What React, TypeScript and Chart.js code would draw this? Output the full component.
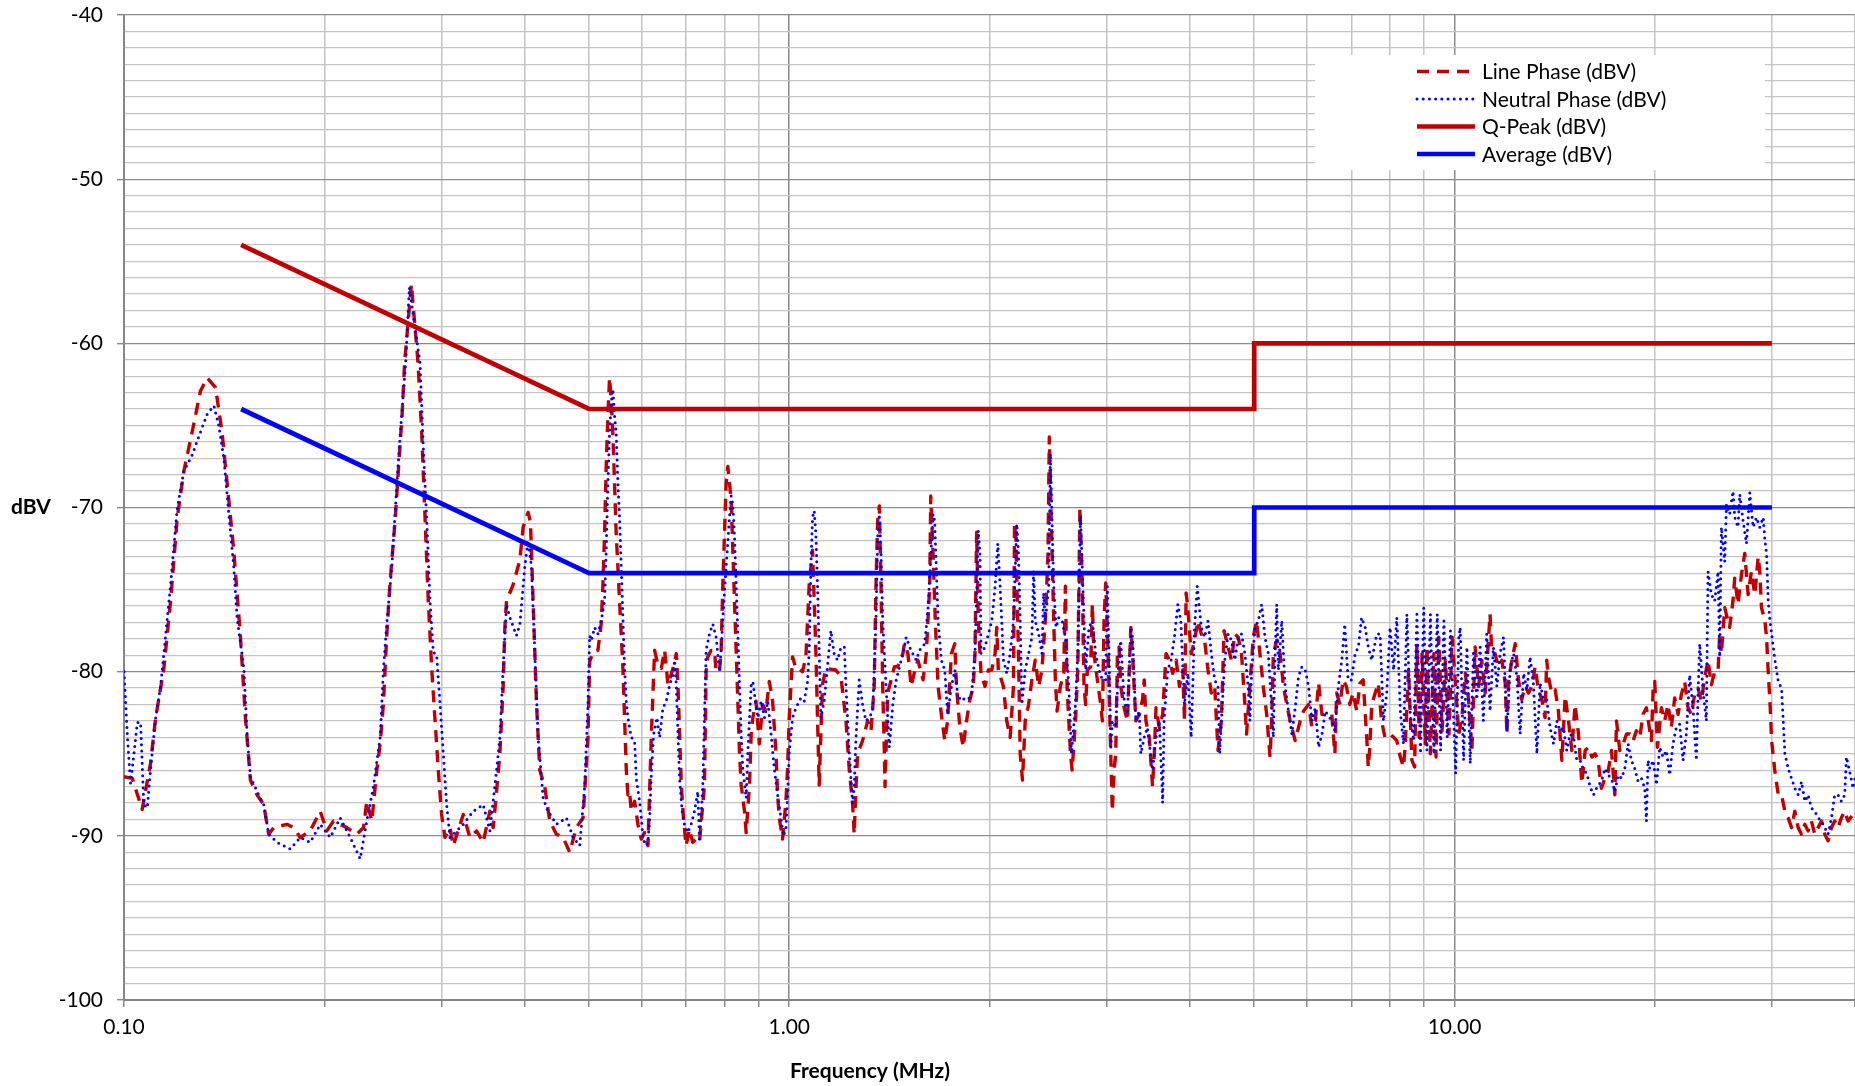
import React, { useEffect, useRef } from 'react';
import { Chart, registerables } from 'chart.js';

Chart.register(...registerables);

const FONT = 'Lato, "Open Sans", sans-serif';

// ---- Data (frequency in MHz, level in dBV) ----
const linePhase: [number, number][] = [
  [0.1, -86.4], [0.1029, -86.5], [0.1065, -88.4], [0.1096, -85.6], [0.1115, -82.9], [0.1148, -79.8], [0.1175, -75.7],
  [0.1202, -70.7], [0.123, -67.8], [0.1266, -65.4], [0.1303, -62.9], [0.1334, -62.1], [0.1373, -62.7], [0.1404, -65.4],
  [0.1429, -68.5], [0.1462, -72.6], [0.1496, -77.8], [0.1523, -82.9], [0.1549, -86.6], [0.1585, -87.5], [0.1622, -88.1],
  [0.165, -89.9], [0.1679, -89.5], [0.1758, -89.3], [0.1799, -89.5], [0.1841, -90.1], [0.1905, -89.7], [0.1972, -88.5],
  [0.2018, -89.7], [0.2065, -89.1], [0.2163, -89.5], [0.2239, -89.9], [0.2291, -89.5], [0.2317, -87.9], [0.2358, -89.1],
  [0.2399, -86.0], [0.2427, -84.4], [0.2455, -81.9], [0.2483, -77.8], [0.2512, -74.5], [0.2557, -70.7], [0.2588, -67.4],
  [0.2619, -64.3], [0.2641, -61.2], [0.2704, -56.4], [0.2767, -61.2], [0.2802, -65.4], [0.2834, -70.5], [0.2867, -75.7],
  [0.2901, -79.8], [0.2934, -82.9], [0.2968, -86.0], [0.3002, -88.7], [0.3037, -90.1], [0.309, -89.5], [0.3126, -90.6],
  [0.3236, -88.7], [0.3311, -90.1], [0.3388, -89.7], [0.3467, -90.4], [0.3548, -88.5], [0.3589, -89.5], [0.3631, -87.3],
  [0.3673, -85.0], [0.3715, -80.9], [0.3737, -77.3], [0.3758, -75.7], [0.3846, -74.7], [0.3936, -73.2], [0.3981, -71.2],
  [0.405, -70.3], [0.4083, -70.9], [0.4121, -75.7], [0.4169, -81.9], [0.4217, -86.0], [0.429, -87.0], [0.4365, -89.1],
  [0.4467, -89.9], [0.4571, -90.1], [0.4677, -91.0], [0.4786, -89.5], [0.4898, -88.9], [0.4983, -84.0], [0.5012, -79.4],
  [0.507, -78.8], [0.5157, -78.7], [0.5216, -77.1], [0.5247, -74.7], [0.5277, -71.6], [0.5307, -67.5], [0.5338, -64.4],
  [0.5369, -62.1], [0.54, -63.4], [0.5431, -65.5], [0.5462, -68.5], [0.5494, -71.6], [0.5526, -73.6], [0.5558, -75.7],
  [0.559, -77.7], [0.5623, -79.8], [0.5655, -82.8], [0.5688, -85.9], [0.5721, -87.5], [0.5754, -87.3], [0.5788, -88.5],
  [0.5855, -87.9], [0.5923, -89.3], [0.5992, -90.2], [0.6062, -89.8], [0.6132, -90.6], [0.6203, -84.0], [0.6275, -78.7],
  [0.6348, -79.6], [0.6422, -79.8], [0.6496, -78.7], [0.6572, -80.8], [0.6686, -79.8], [0.6764, -78.9], [0.6803, -80.8],
  [0.6842, -83.8], [0.6882, -86.9], [0.6934, -88.9], [0.6998, -90.6], [0.7079, -89.6], [0.7161, -90.4], [0.7245, -90.2],
  [0.7329, -90.4], [0.7457, -86.9], [0.7483, -82.8], [0.75, -80.0], [0.7543, -79.1], [0.7631, -78.7], [0.772, -78.7],
  [0.7764, -80.0], [0.7855, -80.0], [0.79, -78.7], [0.7946, -74.7], [0.7992, -71.6], [0.8038, -68.5], [0.8085, -67.5],
  [0.8132, -68.5], [0.8179, -69.6], [0.8226, -72.6], [0.8274, -75.7], [0.8322, -78.7], [0.837, -81.8], [0.8418, -84.9],
  [0.8467, -86.9], [0.8566, -88.5], [0.8615, -89.8], [0.8715, -86.9], [0.8766, -83.8], [0.8817, -82.8], [0.8913, -81.8],
  [0.9016, -84.4], [0.912, -82.0], [0.9226, -82.4], [0.9333, -80.6], [0.9441, -81.8], [0.955, -84.9], [0.9605, -87.5],
  [0.966, -88.9], [0.9772, -90.2], [0.9886, -87.9], [0.9943, -85.9], [1.0, -82.8], [1.0116, -79.1], [1.0233, -79.8],
  [1.0351, -79.8], [1.0471, -80.0], [1.0593, -79.1], [1.0715, -74.7], [1.0839, -72.6], [1.0965, -78.7], [1.1092, -86.9],
  [1.122, -80.8], [1.135, -79.8], [1.175, -79.9], [1.196, -80.3], [1.217, -83.0], [1.231, -86.0], [1.245, -88.0],
  [1.252, -89.9], [1.26, -87.0], [1.267, -85.0], [1.289, -84.2], [1.312, -83.0], [1.327, -83.6], [1.342, -80.9],
  [1.35, -74.8], [1.358, -70.8], [1.366, -69.9], [1.374, -74.8], [1.382, -80.9], [1.39, -85.0], [1.393, -87.0],
  [1.406, -81.3], [1.423, -80.5], [1.439, -79.7], [1.455, -79.7], [1.482, -78.9], [1.49, -78.3], [1.508, -78.9],
  [1.525, -80.9], [1.541, -80.1], [1.561, -79.3], [1.589, -80.5], [1.607, -78.9], [1.626, -74.8], [1.632, -69.3],
  [1.645, -72.8], [1.658, -76.9], [1.674, -80.9], [1.693, -82.6], [1.713, -84.2], [1.73, -83.0], [1.753, -78.9],
  [1.774, -78.3], [1.784, -80.9], [1.805, -83.4], [1.826, -84.6], [1.847, -83.0], [1.869, -81.7], [1.891, -80.9],
  [1.902, -78.9], [1.913, -71.5], [1.924, -76.9], [1.942, -80.1], [1.969, -80.9], [1.992, -79.9], [2.016, -79.9],
  [2.039, -78.9], [2.051, -77.3], [2.062, -79.9], [2.099, -80.9], [2.123, -83.0], [2.148, -84.0], [2.173, -80.9],
  [2.181, -71.0], [2.191, -71.8], [2.211, -78.9], [2.224, -85.0], [2.242, -86.6], [2.263, -83.0], [2.29, -82.0],
  [2.316, -80.5], [2.343, -79.3], [2.371, -80.9], [2.398, -79.9], [2.426, -76.9], [2.449, -72.8], [2.46, -65.7],
  [2.477, -70.8], [2.498, -76.9], [2.512, -80.5], [2.527, -82.4], [2.556, -80.9], [2.586, -80.1], [2.601, -74.8],
  [2.616, -80.9], [2.647, -85.0], [2.662, -86.0], [2.693, -83.0], [2.715, -79.9], [2.735, -70.0], [2.758, -74.8],
  [2.774, -80.9], [2.79, -82.0], [2.806, -79.9], [2.839, -79.7], [2.855, -75.9], [2.871, -78.9], [2.905, -80.5],
  [2.939, -82.0], [2.956, -83.0], [2.973, -76.9], [2.99, -74.6], [3.007, -77.3], [3.025, -80.9], [3.043, -85.0],
  [3.06, -88.5], [3.078, -86.0], [3.096, -85.0], [3.114, -78.9], [3.132, -78.5], [3.15, -80.9], [3.187, -82.2],
  [3.224, -83.0], [3.262, -77.3], [3.281, -78.9], [3.319, -83.0], [3.358, -82.6], [3.397, -81.7], [3.417, -80.5],
  [3.437, -83.0], [3.477, -84.0], [3.517, -87.0], [3.538, -85.0], [3.559, -82.2], [3.6, -83.4], [3.642, -82.6],
  [3.685, -78.9], [3.728, -79.3], [3.771, -80.1], [3.816, -79.3], [3.86, -80.9], [3.905, -79.9], [3.928, -83.0],
  [3.95, -75.2], [3.973, -76.1], [4.02, -78.9], [4.067, -78.1], [4.114, -76.9], [4.163, -77.7], [4.211, -78.1],
  [4.261, -79.9], [4.31, -81.3], [4.361, -80.9], [4.411, -84.8], [4.463, -83.0], [4.504, -77.5], [4.568, -78.5],
  [4.621, -79.3], [4.675, -77.7], [4.73, -77.9], [4.785, -78.9], [4.841, -82.0], [4.869, -83.8], [4.925, -80.9],
  [4.983, -77.9], [5.041, -76.9], [5.1, -78.9], [5.159, -80.9], [5.22, -82.6], [5.281, -85.2], [5.311, -83.0],
  [5.342, -78.9], [5.405, -78.1], [5.468, -78.9], [5.532, -80.9], [5.596, -82.0], [5.662, -83.0], [5.761, -84.2],
  [5.862, -83.0], [5.931, -82.4], [6.035, -82.0], [6.105, -83.4], [6.176, -83.0], [6.248, -80.7], [6.321, -82.6],
  [6.54, -82.6], [6.61, -85.0], [6.65, -81.3], [6.73, -82.0], [6.8, -80.5], [6.88, -80.9], [6.96, -82.0],
  [7.04, -81.3], [7.13, -82.4], [7.21, -80.7], [7.29, -80.5], [7.38, -84.0], [7.42, -85.8], [7.46, -84.6],
  [7.51, -82.0], [7.6, -81.3], [7.68, -80.7], [7.77, -83.0], [7.86, -84.0], [8.0, -83.8], [8.1, -84.0],
  [8.19, -84.2], [8.29, -85.2], [8.38, -85.8], [8.43, -84.6], [8.53, -79.9], [8.63, -85.4], [8.71, -85.8],
  [8.78, -78.3], [8.85, -84.0], [8.94, -78.9], [9.04, -84.4], [9.09, -78.5], [9.2, -85.0], [9.31, -78.9],
  [9.38, -85.2], [9.47, -77.9], [9.58, -83.6], [9.69, -79.3], [9.81, -83.8], [9.92, -77.9], [10.04, -80.9],
  [10.15, -83.8], [10.26, -82.8], [10.38, -80.1], [10.5, -81.7], [10.62, -84.8], [10.74, -78.5], [10.87, -80.9],
  [10.99, -79.3], [11.12, -81.3], [11.31, -76.5], [11.38, -78.9], [11.51, -78.9], [11.64, -79.7], [11.78, -79.3],
  [11.92, -80.7], [11.99, -83.8], [12.06, -80.5], [12.2, -79.3], [12.34, -78.3], [12.48, -80.5], [12.62, -81.7],
  [12.77, -80.9], [12.92, -81.3], [13.07, -80.9], [13.22, -79.7], [13.37, -81.1], [13.53, -81.7], [13.68, -82.8],
  [13.76, -79.3], [13.84, -80.3], [14.0, -81.3], [14.17, -81.1], [14.33, -82.4], [14.5, -85.4], [14.67, -81.5],
  [14.84, -83.0], [15.01, -84.8], [15.18, -82.0], [15.36, -83.8], [15.54, -86.8], [15.72, -84.8], [15.9, -84.6],
  [16.09, -85.2], [16.27, -85.0], [16.44, -85.4], [16.63, -87.1], [16.83, -86.5], [17.02, -86.1], [17.22, -84.8],
  [17.42, -87.5], [17.52, -83.0], [17.72, -84.8], [17.93, -84.4], [18.14, -83.8], [18.35, -83.8], [18.56, -84.2],
  [18.77, -83.6], [18.99, -84.0], [19.21, -82.6], [19.43, -82.2], [19.66, -83.6], [19.77, -84.2], [19.89, -81.0],
  [20.0, -80.6], [20.19, -84.6], [20.47, -82.2], [20.7, -83.0], [20.94, -82.0], [21.18, -83.4], [21.43, -81.6],
  [21.68, -82.6], [21.93, -81.4], [22.18, -80.6], [22.44, -82.2], [22.7, -82.6], [22.96, -81.4], [23.23, -81.0],
  [23.5, -81.8], [23.77, -80.4], [24.05, -79.3], [24.33, -80.8], [24.61, -80.0], [24.9, -80.0], [25.04, -77.7],
  [25.19, -78.9], [25.48, -76.1], [25.77, -76.9], [25.92, -77.3], [26.22, -75.7], [26.38, -74.3], [26.68, -75.9],
  [27.0, -74.1], [27.31, -72.8], [27.63, -75.3], [27.95, -73.9], [28.28, -75.3], [28.61, -73.0], [28.77, -73.9],
  [28.94, -76.1], [29.28, -76.9], [29.45, -77.9], [29.62, -80.0], [29.8, -81.8], [29.97, -84.2], [30.32, -86.1],
  [30.67, -87.5], [31.02, -87.5], [31.38, -88.5], [31.74, -88.9], [32.11, -89.5], [32.48, -88.5], [32.86, -89.5],
  [33.24, -89.9], [33.62, -89.3], [34.01, -89.7], [34.4, -89.1], [34.8, -89.9], [35.21, -89.5], [35.61, -89.1],
  [36.03, -89.9], [36.44, -90.3], [36.87, -89.5], [37.29, -89.1], [37.72, -89.5], [38.16, -88.9], [38.6, -88.5],
  [39.05, -89.1], [39.73, -88.7], [40.0, -88.6],
];

const neutralPhase: [number, number][] = [
  [0.1, -80.0], [0.1012, -84.0], [0.1023, -86.8], [0.1035, -85.0], [0.1047, -83.1], [0.1059, -83.1], [0.1071, -88.1],
  [0.1084, -88.3], [0.1096, -86.0], [0.1115, -82.9], [0.1135, -80.9], [0.1155, -77.8], [0.1175, -74.7], [0.1202, -70.1],
  [0.123, -67.8], [0.1266, -66.8], [0.1303, -65.4], [0.1334, -64.3], [0.1365, -63.8], [0.1388, -65.0], [0.1413, -67.0],
  [0.1438, -70.5], [0.1462, -73.6], [0.1479, -76.7], [0.1514, -79.8], [0.1532, -84.0], [0.1549, -86.4], [0.1585, -87.3],
  [0.1622, -88.1], [0.165, -89.9], [0.1698, -90.4], [0.1778, -90.8], [0.1841, -90.1], [0.1905, -90.4], [0.1972, -89.3],
  [0.2042, -90.1], [0.2113, -88.9], [0.2188, -90.1], [0.2265, -91.4], [0.2317, -89.1], [0.2371, -87.0], [0.2427, -84.0],
  [0.2455, -79.8], [0.2483, -77.1], [0.2527, -73.6], [0.2572, -68.5], [0.2603, -65.4], [0.2651, -61.2], [0.2685, -56.6],
  [0.2786, -61.2], [0.2818, -66.4], [0.2851, -70.7], [0.2884, -75.7], [0.2917, -78.8], [0.2951, -79.0], [0.2985, -81.9],
  [0.302, -85.0], [0.3055, -88.1], [0.309, -90.1], [0.3236, -89.3], [0.335, -88.5], [0.3467, -88.1], [0.3548, -89.7],
  [0.3631, -86.0], [0.3673, -84.0], [0.3715, -79.8], [0.3758, -75.9], [0.3802, -76.7], [0.389, -77.8], [0.3936, -77.1],
  [0.4004, -73.6], [0.405, -72.0], [0.4097, -73.6], [0.4145, -78.8], [0.4193, -84.0], [0.4266, -87.7], [0.4339, -88.5],
  [0.4467, -89.3], [0.4624, -88.9], [0.4732, -90.1], [0.4842, -90.6], [0.4926, -87.0], [0.4983, -81.9], [0.5012, -77.8],
  [0.504, -78.1], [0.5098, -77.3], [0.5157, -77.7], [0.5216, -76.9], [0.5277, -75.7], [0.5307, -72.6], [0.5338, -68.5],
  [0.5369, -65.5], [0.54, -63.6], [0.5431, -62.8], [0.5462, -64.4], [0.5494, -65.5], [0.5526, -68.5], [0.5558, -70.6],
  [0.559, -73.6], [0.5623, -76.7], [0.5655, -79.8], [0.5688, -81.8], [0.5721, -82.8], [0.5788, -84.0], [0.5855, -84.2],
  [0.5889, -86.5], [0.5957, -87.9], [0.5992, -88.9], [0.6027, -90.2], [0.6097, -90.6], [0.6132, -90.4], [0.6168, -88.9],
  [0.6203, -86.3], [0.6254, -83.8], [0.6326, -82.8], [0.6385, -84.0], [0.6459, -82.2], [0.6534, -81.8], [0.661, -80.8],
  [0.6686, -80.2], [0.6725, -79.3], [0.6764, -80.8], [0.6803, -83.8], [0.6842, -86.5], [0.6902, -88.5], [0.6958, -89.3],
  [0.7038, -89.8], [0.712, -89.3], [0.7203, -88.5], [0.7287, -87.3], [0.7329, -90.2], [0.7371, -88.9], [0.7414, -86.9],
  [0.7457, -82.8], [0.75, -78.7], [0.7587, -77.7], [0.7675, -77.1], [0.7764, -77.9], [0.7855, -80.0], [0.79, -78.7],
  [0.7946, -76.7], [0.8038, -73.6], [0.8132, -70.6], [0.8179, -69.3], [0.8226, -69.8], [0.8274, -71.8], [0.8322, -74.7],
  [0.837, -77.7], [0.8418, -80.8], [0.8467, -83.8], [0.8516, -85.9], [0.8615, -87.7], [0.8665, -84.9], [0.8715, -82.8],
  [0.8766, -80.8], [0.8817, -80.6], [0.8868, -81.4], [0.897, -82.8], [0.9074, -81.8], [0.9178, -82.8], [0.9284, -81.8],
  [0.939, -83.8], [0.9495, -85.9], [0.9605, -87.5], [0.9716, -88.9], [0.9795, -90.0], [0.9886, -89.6], [0.9943, -87.5],
  [1.0, -84.9], [1.0116, -82.8], [1.0233, -82.2], [1.0411, -81.6], [1.0532, -81.8], [1.0655, -80.6], [1.0715, -78.7],
  [1.0777, -73.6], [1.0839, -70.6], [1.0902, -70.2], [1.0965, -71.6], [1.1028, -74.7], [1.1092, -78.7], [1.1156, -82.8],
  [1.1285, -81.8], [1.155, -77.5], [1.168, -78.9], [1.182, -79.3], [1.196, -78.5], [1.21, -78.5], [1.217, -80.9],
  [1.231, -85.0], [1.245, -88.0], [1.252, -87.0], [1.26, -84.0], [1.274, -80.5], [1.289, -82.0], [1.304, -83.0],
  [1.319, -82.8], [1.335, -82.4], [1.35, -76.9], [1.358, -71.8], [1.366, -70.4], [1.374, -72.8], [1.382, -76.9],
  [1.398, -80.9], [1.414, -84.6], [1.431, -82.0], [1.448, -80.5], [1.465, -79.7], [1.482, -78.9], [1.499, -77.9],
  [1.517, -78.5], [1.534, -78.9], [1.552, -79.3], [1.57, -78.7], [1.598, -78.3], [1.617, -76.1], [1.633, -72.8],
  [1.645, -70.4], [1.654, -70.8], [1.664, -73.8], [1.674, -76.9], [1.693, -79.3], [1.713, -79.9], [1.73, -82.6],
  [1.753, -80.9], [1.774, -79.9], [1.795, -81.7], [1.816, -81.5], [1.833, -81.7], [1.858, -81.7], [1.88, -81.3],
  [1.902, -78.9], [1.924, -71.4], [1.935, -72.8], [1.942, -78.9], [1.969, -78.5], [1.992, -77.7], [2.016, -76.9],
  [2.039, -74.8], [2.058, -72.2], [2.075, -74.8], [2.099, -79.3], [2.123, -80.1], [2.148, -78.9], [2.173, -76.9],
  [2.198, -71.0], [2.211, -72.8], [2.224, -76.9], [2.237, -82.0], [2.263, -79.9], [2.29, -78.9], [2.316, -77.9],
  [2.33, -73.8], [2.343, -76.9], [2.371, -77.7], [2.398, -78.9], [2.412, -75.2], [2.426, -76.9], [2.455, -74.8],
  [2.469, -66.7], [2.483, -70.8], [2.498, -74.8], [2.518, -77.3], [2.542, -76.7], [2.571, -76.9], [2.601, -77.9],
  [2.632, -80.9], [2.656, -85.0], [2.693, -82.0], [2.715, -78.9], [2.73, -74.0], [2.74, -70.5], [2.758, -73.8],
  [2.774, -76.9], [2.79, -79.9], [2.822, -77.3], [2.855, -76.9], [2.888, -78.9], [2.922, -79.9], [2.956, -80.5],
  [2.99, -80.5], [3.007, -74.8], [3.025, -78.9], [3.043, -84.6], [3.06, -83.0], [3.096, -83.4], [3.132, -78.9],
  [3.15, -78.1], [3.187, -81.7], [3.224, -82.6], [3.262, -77.3], [3.281, -77.9], [3.319, -83.0], [3.358, -82.4],
  [3.377, -85.0], [3.417, -84.0], [3.454, -83.4], [3.517, -86.0], [3.559, -84.0], [3.6, -83.0], [3.642, -88.0],
  [3.659, -83.0], [3.706, -79.9], [3.75, -79.3], [3.793, -77.9], [3.838, -75.9], [3.878, -76.9], [3.928, -82.0],
  [3.973, -80.1], [4.02, -84.0], [4.067, -77.3], [4.105, -74.8], [4.163, -77.3], [4.211, -77.9], [4.261, -76.9],
  [4.31, -78.9], [4.361, -80.5], [4.411, -80.9], [4.437, -85.0], [4.463, -83.0], [4.515, -79.3], [4.568, -77.7],
  [4.621, -78.1], [4.675, -79.3], [4.73, -77.9], [4.785, -77.7], [4.841, -78.9], [4.897, -80.9], [4.925, -83.0],
  [4.954, -80.1], [5.012, -77.3], [5.071, -76.9], [5.13, -75.9], [5.19, -77.9], [5.25, -78.9], [5.311, -82.2],
  [5.342, -84.0], [5.374, -78.9], [5.405, -75.9], [5.436, -79.9], [5.5, -76.9], [5.564, -80.9], [5.629, -82.4],
  [5.695, -83.8], [5.761, -82.2], [5.828, -80.3], [5.896, -79.7], [5.965, -79.9], [6.035, -80.9], [6.105, -83.0],
  [6.176, -82.2], [6.248, -84.6], [6.321, -83.8], [6.395, -82.4], [6.54, -83.0], [6.61, -83.6], [6.69, -80.9],
  [6.77, -79.3], [6.84, -77.1], [6.92, -80.5], [7.0, -80.5], [7.09, -78.9], [7.17, -78.5], [7.25, -76.7],
  [7.34, -77.3], [7.42, -78.5], [7.51, -79.3], [7.64, -77.7], [7.73, -77.7], [7.82, -83.0], [7.91, -81.3],
  [8.0, -77.3], [8.1, -79.9], [8.19, -76.7], [8.29, -82.4], [8.38, -84.4], [8.48, -76.5], [8.58, -82.6],
  [8.68, -84.2], [8.78, -76.5], [8.89, -85.0], [8.99, -76.1], [9.09, -84.8], [9.2, -76.5], [9.31, -85.0],
  [9.42, -76.5], [9.53, -84.8], [9.64, -76.9], [9.75, -84.0], [9.86, -77.5], [10.04, -86.2], [10.15, -77.9],
  [10.2, -77.3], [10.32, -85.4], [10.44, -78.5], [10.56, -85.6], [10.68, -78.7], [10.8, -81.7], [10.93, -78.5],
  [11.05, -83.0], [11.18, -77.7], [11.31, -82.4], [11.44, -78.5], [11.58, -80.9], [11.71, -78.9], [11.85, -77.9],
  [11.99, -83.6], [12.13, -79.7], [12.27, -78.9], [12.41, -80.3], [12.55, -83.8], [12.7, -80.1], [12.85, -81.1],
  [12.99, -79.1], [13.14, -80.7], [13.3, -85.0], [13.45, -80.7], [13.61, -81.7], [13.76, -81.7], [13.92, -83.4],
  [14.09, -84.4], [14.25, -83.0], [14.41, -83.6], [14.58, -83.4], [14.75, -84.8], [14.92, -83.8], [15.1, -84.0],
  [15.27, -85.4], [15.45, -85.4], [15.63, -86.0], [15.81, -86.2], [15.99, -87.0], [16.18, -87.5], [16.44, -86.9],
  [16.63, -86.7], [16.83, -85.9], [17.02, -86.3], [17.22, -86.5], [17.42, -87.3], [17.62, -86.3], [17.83, -86.5],
  [18.03, -85.9], [18.24, -84.4], [18.45, -85.4], [18.66, -85.9], [18.88, -86.7], [19.1, -86.5], [19.32, -87.1],
  [19.43, -89.1], [19.54, -85.4], [19.66, -85.9], [19.89, -85.4], [20.12, -86.9], [20.35, -84.6], [20.58, -85.2],
  [20.82, -84.8], [21.06, -86.3], [21.3, -84.4], [21.55, -83.4], [21.8, -83.2], [22.06, -85.4], [22.31, -83.8],
  [22.57, -80.2], [22.83, -82.2], [23.1, -85.4], [23.23, -81.4], [23.37, -78.3], [23.64, -81.2], [23.91, -83.0],
  [24.05, -73.9], [24.33, -75.3], [24.61, -75.7], [24.9, -73.9], [25.04, -79.1], [25.19, -71.2], [25.48, -73.3],
  [25.63, -69.8], [25.92, -70.4], [26.22, -69.0], [26.38, -70.6], [26.68, -71.2], [26.84, -69.2], [27.15, -70.8],
  [27.47, -72.2], [27.79, -69.1], [28.11, -71.2], [28.44, -70.6], [28.77, -71.2], [29.11, -70.6], [29.28, -72.0],
  [29.45, -72.8], [29.62, -75.7], [29.8, -76.9], [29.97, -77.7], [30.32, -79.3], [30.67, -80.6], [31.02, -81.0],
  [31.38, -85.0], [31.74, -85.9], [32.11, -86.5], [32.48, -87.1], [32.86, -87.5], [33.24, -86.7], [33.62, -87.9],
  [34.01, -87.5], [34.4, -88.3], [34.8, -88.5], [35.21, -88.9], [35.61, -89.1], [36.03, -89.5], [36.44, -89.9],
  [36.87, -88.9], [37.29, -87.5], [37.72, -87.5], [38.16, -87.9], [38.6, -87.5], [38.83, -85.2], [39.28, -86.1],
  [39.73, -87.1], [40.0, -86.5],
];

const qPeakFreq = [0.15, 0.5, 5, 5, 30];
const qPeakDbv = [-54, -64, -64, -60, -60];
const averageFreq = [0.15, 0.5, 5, 5, 30];
const averageDbv = [-64, -74, -74, -70, -70];

const xTickValues = [
  0.1, 0.2, 0.3, 0.4, 0.5, 0.6, 0.7, 0.8, 0.9,
  1, 2, 3, 4, 5, 6, 7, 8, 9,
  10, 20, 30, 40,
];
const xMajorTicks = [0.1, 1, 10];
const yMajorTicks = [-100, -90, -80, -70, -60, -50, -40];

const seriesLabels = ['Line Phase (dBV)', 'Neutral Phase (dBV)', 'Q-Peak (dBV)', 'Average (dBV)'];
const xTitle = 'Frequency (MHz)';
const yTitle = 'dBV';

const RED = '#C00000';
const BLUE = '#0000FF';
const MAJOR_GRID = '#8c8c8c';
const MINOR_GRID = '#c4c4c4';

const isXMajor = (v: number) => xMajorTicks.some((m) => Math.abs(m - v) < 1e-9);
const isYMajor = (v: number) => yMajorTicks.some((m) => Math.abs(m - v) < 1e-9);

const overlayPlugin = {
  id: 'overlay',
  afterDraw(chart: any) {
    const ctx = chart.ctx as CanvasRenderingContext2D;
    ctx.save();
    // Legend box
    ctx.fillStyle = '#ffffff';
    ctx.fillRect(1315, 55, 450, 115);
    chart.data.datasets.forEach((ds: any, i: number) => {
      const y = 71.5 + i * 27.5;
      ctx.beginPath();
      ctx.setLineDash(ds.borderDash || []);
      ctx.lineCap = ds.borderCapStyle || 'butt';
      ctx.lineWidth = ds.borderWidth;
      ctx.strokeStyle = ds.borderColor;
      ctx.moveTo(1417, y);
      ctx.lineTo(1475, y);
      ctx.stroke();
      ctx.setLineDash([]);
      ctx.fillStyle = '#000000';
      ctx.font = `21px ${FONT}`;
      ctx.textAlign = 'left';
      ctx.textBaseline = 'middle';
      ctx.fillText(ds.label, 1482, y + 1);
    });
    // Axis titles
    ctx.font = `bold 21px ${FONT}`;
    ctx.fillStyle = '#000000';
    ctx.textAlign = 'center';
    ctx.textBaseline = 'middle';
    ctx.fillText(yTitle, 31, 507);
    ctx.fillText(xTitle, 870, 1071);
    ctx.restore();
  },
};

export default function App() {
  const canvasRef = useRef<HTMLCanvasElement | null>(null);

  useEffect(() => {
    document.body.style.margin = '0';
    document.body.style.overflow = 'hidden';
    const canvas = canvasRef.current;
    if (!canvas) return;

    const toPoints = (xs: number[], ys: number[]) => xs.map((x, i) => ({ x, y: ys[i] }));
    const pairPoints = (arr: [number, number][]) => arr.map(([x, y]) => ({ x, y }));

    const chart = new Chart(canvas, {
      type: 'line',
      data: {
        datasets: [
          {
            label: seriesLabels[0],
            data: pairPoints(linePhase),
            borderColor: RED,
            borderWidth: 3.4,
            borderDash: [12, 8],
            borderCapStyle: 'butt',
            borderJoinStyle: 'round',
            pointRadius: 0,
            tension: 0,
            fill: false,
            order: 4,
          },
          {
            label: seriesLabels[1],
            data: pairPoints(neutralPhase),
            borderColor: BLUE,
            borderWidth: 3,
            borderDash: [0, 6.2],
            borderCapStyle: 'round',
            borderJoinStyle: 'round',
            pointRadius: 0,
            tension: 0,
            fill: false,
            order: 3,
          },
          {
            label: seriesLabels[2],
            data: toPoints(qPeakFreq, qPeakDbv),
            borderColor: RED,
            borderWidth: 4.7,
            borderCapStyle: 'butt',
            borderJoinStyle: 'miter',
            pointRadius: 0,
            tension: 0,
            fill: false,
            order: 2,
          },
          {
            label: seriesLabels[3],
            data: toPoints(averageFreq, averageDbv),
            borderColor: BLUE,
            borderWidth: 4.7,
            borderCapStyle: 'butt',
            borderJoinStyle: 'miter',
            pointRadius: 0,
            tension: 0,
            fill: false,
            order: 1,
          },
        ],
      } as any,
      options: {
        responsive: false,
        maintainAspectRatio: false,
        devicePixelRatio: 1,
        animation: false,
        layout: { padding: { top: 15, left: 0, right: 0, bottom: 0 } },
        plugins: {
          legend: { display: false },
          tooltip: { enabled: false },
          title: { display: false },
        },
        scales: {
          x: {
            type: 'logarithmic',
            min: 0.1,
            max: 40,
            afterBuildTicks: (scale: any) => {
              scale.ticks = xTickValues.map((v) => ({ value: v, major: isXMajor(v) }));
            },
            afterFit: (scale: any) => {
              scale.height = 86;
              scale.paddingLeft = 0;
              scale.paddingRight = 0;
            },
            ticks: {
              autoSkip: false,
              maxRotation: 0,
              minRotation: 0,
              padding: 8,
              color: '#000000',
              font: { family: FONT, size: 21 },
              callback: (value: any) => {
                const v = Number(value);
                return isXMajor(v) ? v.toFixed(2) : '';
              },
            },
            grid: {
              color: (c: any) => (c.tick && isXMajor(c.tick.value) ? MAJOR_GRID : MINOR_GRID),
              lineWidth: 1.5,
              tickLength: 7,
              tickColor: MAJOR_GRID,
              tickWidth: 1.5,
            },
            border: { display: true, color: '#868686', width: 2 },
          },
          y: {
            type: 'linear',
            min: -100,
            max: -40,
            afterFit: (scale: any) => {
              scale.width = 124;
              scale.paddingTop = 0;
              scale.paddingBottom = 0;
            },
            ticks: {
              stepSize: 1,
              autoSkip: false,
              padding: 14,
              color: '#000000',
              font: { family: FONT, size: 21 },
              callback: (value: any) => {
                const v = Math.round(Number(value));
                return isYMajor(v) ? String(v) : '';
              },
            },
            grid: {
              color: (c: any) => (c.tick && isYMajor(Math.round(c.tick.value)) ? MAJOR_GRID : MINOR_GRID),
              lineWidth: 1.3,
              tickLength: 7,
              tickColor: (c: any) =>
                c.tick && isYMajor(Math.round(c.tick.value)) ? MAJOR_GRID : 'rgba(0,0,0,0)',
              tickWidth: 1.5,
            },
            border: { display: true, color: '#868686', width: 2 },
          },
        },
      } as any,
      plugins: [overlayPlugin],
    });

    return () => {
      chart.destroy();
    };
  }, []);

  return (
    <div style={{ width: 1855, height: 1086, background: '#ffffff' }}>
      <canvas ref={canvasRef} width={1855} height={1086} style={{ display: 'block' }} />
    </div>
  );
}
